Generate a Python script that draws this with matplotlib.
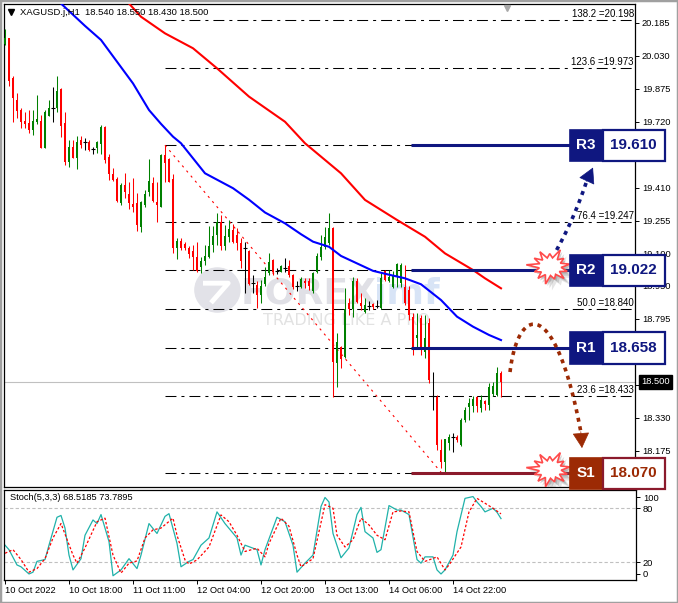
import numpy as np
import matplotlib.pyplot as plt
from matplotlib.patches import Rectangle, Polygon, Ellipse

plt.rcParams['font.family'] = ['Liberation Sans', 'DejaVu Sans']

# ---- XAGUSD H1 candles ----
opens = [20.084, 20.112, 19.927, 19.822, 19.775, 19.723, 19.716, 19.681, 19.720, 19.723,
         19.598, 19.748, 19.783, 19.783, 19.874, 19.713, 19.530, 19.602, 19.551, 19.633,
         19.624, 19.626, 19.591, 19.597, 19.614, 19.697, 19.553, 19.473, 19.451, 19.340,
         19.423, 19.381, 19.334, 19.340, 19.224, 19.329, 19.392, 19.434, 19.343, 19.321,
         19.564, 19.545, 19.451, 19.126, 19.160, 19.145, 19.126, 19.113, 19.086, 19.040,
         19.066, 19.086, 19.141, 19.188, 19.251, 19.138, 19.180, 19.212, 19.188, 19.149,
         19.126, 19.113, 18.962, 18.954, 18.907, 18.958, 19.011, 19.071, 19.021, 19.016,
         19.032, 19.043, 19.000, 18.949, 18.943, 18.974, 18.974, 18.927, 19.016, 19.086,
         19.133, 19.149, 19.220, 18.586, 18.664, 18.617, 18.868, 18.841, 18.972, 18.868,
         18.828, 18.856, 18.863, 18.856, 18.844, 19.019, 18.972, 18.946, 18.992, 18.963,
         18.944, 18.930, 18.803, 18.705, 18.799, 18.639, 18.775, 18.432, 18.426, 18.179,
         18.124, 18.213, 18.238, 18.241, 18.202, 18.320, 18.382, 18.385, 18.426, 18.375,
         18.410, 18.390, 18.440, 18.437, 18.540]
highs = [20.155, 20.115, 19.935, 19.854, 19.783, 19.767, 19.775, 19.775, 19.846, 19.752,
         19.775, 19.822, 19.882, 19.935, 19.878, 19.764, 19.634, 19.634, 19.653, 19.653,
         19.645, 19.634, 19.600, 19.628, 19.706, 19.700, 19.569, 19.501, 19.462, 19.434,
         19.478, 19.439, 19.457, 19.384, 19.346, 19.400, 19.544, 19.462, 19.439, 19.567,
         19.610, 19.548, 19.475, 19.173, 19.173, 19.154, 19.137, 19.141, 19.157, 19.086,
         19.141, 19.231, 19.231, 19.290, 19.282, 19.235, 19.259, 19.239, 19.220, 19.173,
         19.157, 19.118, 19.000, 18.972, 18.977, 19.039, 19.105, 19.074, 19.032, 19.046,
         19.082, 19.071, 19.003, 18.974, 18.990, 18.985, 18.985, 19.014, 19.105, 19.188,
         19.224, 19.290, 19.224, 18.727, 18.667, 18.938, 18.891, 18.992, 18.985, 18.915,
         18.891, 18.878, 18.870, 18.883, 19.008, 19.024, 19.024, 19.019, 19.055, 19.057,
         19.047, 18.949, 18.822, 18.822, 18.813, 18.813, 18.799, 18.546, 18.436, 18.229,
         18.232, 18.254, 18.257, 18.249, 18.328, 18.382, 18.422, 18.432, 18.432, 18.437,
         18.414, 18.495, 18.500, 18.570, 18.550]
lows = [20.080, 19.889, 19.720, 19.738, 19.692, 19.689, 19.666, 19.658, 19.708, 19.595,
        19.595, 19.745, 19.720, 19.764, 19.650, 19.517, 19.509, 19.548, 19.498, 19.598,
        19.587, 19.585, 19.569, 19.575, 19.569, 19.525, 19.447, 19.444, 19.345, 19.329,
        19.361, 19.309, 19.298, 19.208, 19.201, 19.321, 19.371, 19.345, 19.251, 19.318,
        19.439, 19.436, 19.102, 19.076, 19.118, 19.118, 19.079, 19.024, 19.016, 19.008,
        19.047, 19.079, 19.110, 19.141, 19.118, 19.118, 19.157, 19.149, 19.118, 19.032,
        18.915, 18.954, 18.915, 18.844, 18.869, 18.949, 18.999, 18.999, 19.005, 19.013,
        19.016, 18.993, 18.933, 18.927, 18.938, 18.938, 18.930, 18.915, 19.008, 19.071,
        19.121, 19.141, 18.429, 18.476, 18.562, 18.612, 18.813, 18.805, 18.868, 18.836,
        18.821, 18.836, 18.841, 18.844, 18.841, 18.972, 18.969, 18.941, 18.946, 18.944,
        18.860, 18.789, 18.625, 18.662, 18.625, 18.611, 18.494, 18.367, 18.179, 18.093,
        18.070, 18.179, 18.171, 18.218, 18.198, 18.312, 18.320, 18.359, 18.359, 18.359,
        18.367, 18.367, 18.432, 18.432, 18.430]
closes = [20.112, 19.911, 19.833, 19.770, 19.720, 19.709, 19.681, 19.723, 19.733, 19.598,
          19.764, 19.783, 19.783, 19.864, 19.701, 19.530, 19.602, 19.551, 19.626, 19.611,
          19.624, 19.587, 19.591, 19.625, 19.694, 19.540, 19.473, 19.447, 19.349, 19.423,
          19.389, 19.340, 19.321, 19.235, 19.343, 19.379, 19.442, 19.349, 19.329, 19.564,
          19.528, 19.439, 19.126, 19.160, 19.126, 19.126, 19.098, 19.086, 19.019, 19.068,
          19.090, 19.138, 19.185, 19.251, 19.138, 19.185, 19.216, 19.157, 19.149, 19.066,
          19.126, 18.957, 18.962, 18.907, 18.949, 18.992, 19.063, 19.016, 19.021, 19.043,
          19.032, 19.000, 18.943, 18.949, 18.980, 18.962, 18.949, 19.011, 19.090, 19.133,
          19.180, 19.220, 18.594, 18.687, 18.606, 18.841, 18.841, 18.972, 18.875, 18.856,
          18.860, 18.856, 18.849, 18.856, 18.988, 18.977, 18.992, 18.997, 19.051, 19.047,
          18.869, 18.813, 18.662, 18.719, 18.648, 18.705, 18.508, 18.432, 18.202, 18.124,
          18.229, 18.241, 18.238, 18.226, 18.320, 18.367, 18.401, 18.417, 18.385, 18.414,
          18.395, 18.476, 18.478, 18.539, 18.500]

label_bars = [0, 16, 32, 48, 64, 80, 96, 112]
bar_labels = ['10 Oct 2022', '10 Oct 18:00', '11 Oct 11:00', '12 Oct 04:00',
              '12 Oct 20:00', '13 Oct 13:00', '14 Oct 06:00', '14 Oct 22:00']

# moving averages
ma_blue_x = [14, 20, 24, 32, 36, 39, 42, 44, 50, 57, 61, 65, 70, 74, 77, 81, 84, 88, 92,
             96, 100, 104, 109, 113, 117, 121, 124]
ma_blue_y = [20.275, 20.170, 20.104, 19.900, 19.775, 19.710, 19.650, 19.619, 19.478, 19.408,
             19.354, 19.294, 19.243, 19.192, 19.157, 19.133, 19.090, 19.055, 19.020,
             19.002, 18.985, 18.957, 18.883, 18.805, 18.758, 18.719, 18.695]
ma_red_x = [31, 34, 40, 47, 53, 61, 70, 75, 81, 84, 90, 98, 105, 110, 117, 120, 124]
ma_red_y = [20.275, 20.213, 20.135, 20.065, 19.971, 19.838, 19.720, 19.619, 19.525, 19.478,
            19.353, 19.259, 19.180, 19.102, 19.024, 18.985, 18.938]

# Stoch(5,3,3)
st_main_x = [0, 1, 3, 4, 6, 7, 8, 10, 11, 13, 14, 15, 16, 17, 19, 20, 22, 23, 24, 26, 27,
             29, 31, 33, 34, 36, 38, 40, 41, 43, 44, 46, 47, 49, 51, 53, 55, 58, 59, 60,
             63, 64, 65, 68, 70, 72, 73, 75, 77, 79, 80, 81, 82, 84, 86, 88, 89, 90, 92,
             93, 94, 96, 98, 99, 101, 103, 104, 105, 107, 108, 109, 110, 112, 113, 115,
             117, 118, 119, 120, 122, 123, 124]
st_main_y = [39, 34, 17, 15, 7, 9, 21, 23, 39, 70, 72, 58, 28, 11.5, 24, 50, 67, 63, 73, 43,
             5, 11.5, 24, 13, 28, 63, 52, 71, 74, 41, 15, 21, 23, 39, 47, 76, 63, 47, 28,
             39, 34, 17, 34, 70, 65, 39, 9, 19, 28, 82, 92, 87, 52, 25, 36, 73, 81, 54, 47,
             31, 34, 83, 78, 78, 73, 23, 19, 26, 26, 11.5, 7, 11.5, 28, 54, 91, 93, 87, 82,
             76, 80, 75.6, 68.5185]
st_sig_x = [0, 2, 4, 6, 8, 10, 12, 14, 17, 18, 20, 23, 25, 27, 29, 31, 33, 35, 37, 39, 42,
            43, 45, 46, 48, 51, 54, 56, 58, 60, 63, 65, 66, 69, 71, 73, 74, 77, 80, 82, 83,
            85, 87, 89, 91, 93, 95, 97, 99, 101, 103, 105, 106, 108, 110, 111, 114, 116,
            118, 120, 122, 124]
st_sig_y = [30, 34, 23, 9, 13, 24, 47, 63, 28, 19, 36, 65, 69, 28, 8, 19, 21.5, 47, 56, 58,
            69, 50, 22.6, 18, 22.6, 37, 72.6, 65, 50, 32, 35.6, 26, 41, 69, 60, 28, 15, 24,
            84, 80, 50, 37, 45, 69, 61.5, 50, 45, 76, 77, 76, 32, 21, 22.6, 26, 11.5, 17,
            37, 76, 91, 85.6, 80, 73.7895]

# Fibonacci retracement (labels that sit under the level boxes are not shown)
fib_pct = [138.2, 123.6, 100.0, 76.4, 61.8, 50.0, 38.2, 23.6, 0.0]
fib_val = [20.198, 19.973, 19.610, 19.247, 19.022, 18.840, 18.658, 18.433, 18.070]
fib_shown = [True, True, False, True, False, True, False, True, False]
fib_start = 40
swing_hi = (40, 19.610)
swing_lo = (109.2, 18.070)
lvl_names = ['R3', 'R2', 'R1', 'S1']
lvl_vals = [19.610, 19.022, 18.658, 18.070]
last_price = 18.500

price_ticks = [20.185, 20.030, 19.875, 19.720, 19.565, 19.410, 19.255, 19.100, 18.950,
               18.795, 18.640, 18.485, 18.330, 18.175, 18.020]
price_labels = ['20.185', '20.030', '19.875', '19.720', '', '19.410', '19.255', '19.100',
                '18.950', '18.795', '', '', '18.330', '18.175', '']

# ---------------------------------------------------------------
W, H = 678, 603
fig = plt.figure(figsize=(W / 100, H / 100), dpi=100)
ax = fig.add_axes([4 / W, 1 - 487 / H, 631 / W, 483 / H])
ax2 = fig.add_axes([4 / W, 1 - 580 / H, 632 / W, 90 / H])
ax.set_zorder(3)
ax2.set_zorder(1)

XMIN, XMAX = -0.25, 157.5
ax.set_xlim(XMIN, XMAX)
ax.set_ylim(18.0052, 20.2728)
ax2.set_xlim(XMIN, XMAX + 0.25)
ax2.set_ylim(0.3, 100.3)

for a in (ax, ax2):
    for s in a.spines.values():
        s.set_linewidth(0.9)
        s.set_color('black')

# candles
idx = np.arange(len(closes))
o = np.array(opens); c = np.array(closes)
hi = np.array(highs); lo = np.array(lows)
cols = np.where(c > o, '#008000', np.where(c < o, '#ff0000', 'black'))
ax.vlines(idx, lo, hi, colors=cols, lw=0.75, zorder=3)
body = c != o
ax.bar(idx[body], np.abs(c - o)[body], bottom=np.minimum(o, c)[body], width=0.72,
       color=cols[body], linewidth=0, zorder=3)
ax.hlines(o[~body], idx[~body] - 0.4, idx[~body] + 0.4, colors='black', lw=0.8, zorder=3)

# moving averages
ax.plot(ma_blue_x, ma_blue_y, color='#0000ff', lw=1.5, zorder=4)
ax.plot(ma_red_x, ma_red_y, color='#ff0000', lw=1.5, zorder=4)

# last price line
ax.axhline(last_price, color='#c0c0c0', lw=0.8, zorder=1)

# fibonacci
ax.hlines(fib_val, fib_start, XMAX, colors='black', lw=0.75,
          linestyles=[(0, (10.5, 4.8, 2.9, 4.8))], zorder=1)
for p, v, show in zip(fib_pct, fib_val, fib_shown):
    if show:
        ax.text(XMAX - 0.3, v + 0.006, f'{p:.1f} ={v:.3f}', ha='right', va='bottom',
                fontsize=7, zorder=2)
ax.plot([swing_hi[0], swing_lo[0]], [swing_hi[1], swing_lo[1]], color='red', lw=0.8,
        ls=(0, (2, 4)), zorder=2)

# watermark
ax.add_patch(Ellipse((53.1, 18.930), 11.25, 0.207, color='#e2e2e8', zorder=0.5))
ax.plot([49.5, 55.8, 51.5], [18.962, 18.962, 18.870], color='white', lw=3.5,
        solid_capstyle='butt', zorder=0.6)
ax.text(58.8, 18.912, 'FOREX', fontsize=26, fontweight='bold', color='#e0e0e6',
        family='DejaVu Sans', va='center', zorder=0.5)
ax.text(92.2, 18.912, 'imf', fontsize=26, fontweight='bold', color='#d8e4f6',
        family='DejaVu Sans', va='center', zorder=0.5)
ax.text(64.5, 18.785, 'TRADING LIKE A PRO', fontsize=11.5, color='#e2e2e2',
        family='DejaVu Sans', va='center', zorder=0.5)

# header
ax.plot([0.011], [0.983], marker='v', color='black', ms=4, transform=ax.transAxes,
        clip_on=False, zorder=6)
ax.text(0.025, 0.983, 'XAGUSD.j,H1  18.540 18.550 18.430 18.500', transform=ax.transAxes,
        fontsize=6.8, va='center', ha='left', zorder=6)
ax.plot([125.5], [20.255], marker='v', color='#a8a8a8', ms=5, zorder=6, clip_on=False)

# price axis
ax.set_xticks([])
ax.yaxis.tick_right()
ax.set_yticks(price_ticks)
ax.set_yticklabels(price_labels)
ax.tick_params(axis='y', length=3, width=0.7, labelsize=6.7, pad=2)
ax.text(XMAX + 1.55, last_price, f'{last_price:.3f}', color='white', fontsize=6.7,
        va='center', ha='left', zorder=15, clip_on=False,
        bbox=dict(boxstyle='square,pad=0.28', fc='black', ec='black'))

# support / resistance lines and boxes
navy = '#0f1780'
brown = '#9c2a04'
maroon = '#8b1a2c'
box_h = 0.147
for name, v in zip(lvl_names, lvl_vals):
    fill = navy if name.startswith('R') else brown
    edge = navy if name.startswith('R') else maroon
    line_c = navy if name.startswith('R') else maroon
    ax.plot([101.5, 141.4], [v, v], color=line_c, lw=2.2, zorder=5,
            solid_capstyle='butt')
    ax.add_patch(Rectangle((141.2, v - box_h / 2), 8.2, box_h, fc=fill, ec=fill, lw=1.2,
                           zorder=20, clip_on=False))
    ax.add_patch(Rectangle((149.4, v - box_h / 2), 15.7, box_h, fc='white', ec=edge,
                           lw=1.6, zorder=20, clip_on=False))
    ax.text(145.3, v, name, color='white', fontsize=11, fontweight='bold', ha='center',
            va='center', zorder=21, clip_on=False)
    ax.text(157.2, v, f'{v:.3f}', color=fill, fontsize=11, fontweight='bold',
            ha='center', va='center', zorder=21, clip_on=False)


def starburst(cx, cy, rx, ry):
    k = np.arange(26)
    ang = k * np.pi / 13 + 0.15
    scale = np.array([1.0, 0.85, 1.15, 0.8, 1.05, 0.95, 1.2, 0.85, 0.95, 1.1, 0.8, 1.0, 0.9])
    r = np.where(k % 2 == 0, np.repeat(scale, 2), 0.55)
    return np.column_stack([cx + rx * r * np.cos(ang), cy + ry * r * np.sin(ang)])


for v in (lvl_vals[1], lvl_vals[3]):
    pts = starburst(136.3, v + 0.018, 5.0, 0.076)
    for dx, dy, al in [(1.6, -0.03, 0.18), (1.0, -0.02, 0.25), (0.5, -0.01, 0.3)]:
        ax.add_patch(Polygon(pts + [dx, dy], closed=True, fc='#707070', ec='none',
                             alpha=al, zorder=6))
    ax.add_patch(Polygon(pts, closed=True, fc='white', ec='#ff4a4a', lw=1.2, zorder=7))


def bezier(pts, n=60):
    t = np.linspace(0, 1, n)[:, None]
    p = np.array(pts)
    if len(p) == 3:
        return (1 - t) ** 2 * p[0] + 2 * (1 - t) * t * p[1] + t ** 2 * p[2]
    return ((1 - t) ** 3 * p[0] + 3 * (1 - t) ** 2 * t * p[1] + 3 * (1 - t) * t ** 2 * p[2]
            + t ** 3 * p[3])


# projected paths
up = bezier([(137.9, 19.118), (142.2, 19.262), (145.4, 19.440)])
ax.plot(up[:, 0], up[:, 1], color=navy, lw=2.6, ls=(0, (1.1, 1.3)),
        dash_capstyle='butt', zorder=8, clip_on=False)
ax.annotate('', xy=(147.0, 19.505), xytext=(145.4, 19.440),
            arrowprops=dict(arrowstyle='-|>,head_length=1.0,head_width=0.55', color=navy,
                            lw=0.5, shrinkA=0, shrinkB=0), zorder=8)
dn = bezier([(126.25, 18.545), (128.25, 18.860), (137.5, 18.907), (143.9, 18.27)])
ax.plot(dn[:, 0], dn[:, 1], color=brown, lw=2.6, ls=(0, (1.1, 1.3)),
        dash_capstyle='butt', zorder=8)
ax.annotate('', xy=(144.25, 18.188), xytext=(143.95, 18.265),
            arrowprops=dict(arrowstyle='-|>,head_length=1.0,head_width=0.55', color=brown,
                            lw=0.5, shrinkA=0, shrinkB=0), zorder=8)

# stochastic panel
ax2.axhline(80, color='#c0c0c0', lw=0.8, ls=(0, (3, 2)))
ax2.axhline(20, color='#c0c0c0', lw=0.8, ls=(0, (3, 2)))
ax2.plot(st_main_x, st_main_y, color='#20b2aa', lw=0.9)
ax2.plot(st_sig_x, st_sig_y, color='#ff0000', lw=0.9, ls=(0, (2, 1.6)))
ax2.text(0.009, 0.92, 'Stoch(5,3,3) 68.5185 73.7895', transform=ax2.transAxes,
         fontsize=6.7, va='center', ha='left')
ax2.yaxis.tick_right()
ax2.set_yticks([92.5, 80, 20, 7.5])
ax2.set_yticklabels(['100', '80', '20', '0'])
ax2.tick_params(axis='y', length=3, width=0.7, labelsize=6.7, pad=2)
ax2.set_xticks(label_bars)
ax2.set_xticklabels(bar_labels)
for t in ax2.get_xticklabels():
    t.set_ha('left')
ax2.tick_params(axis='x', length=3, width=0.7, labelsize=6.7, pad=1.5)

# window frame
fig.patches.append(Rectangle((0, 0), 1, 1, transform=fig.transFigure, fill=False,
                             edgecolor='#a0a0a0', lw=2.5))

fig.savefig('out.png', dpi=100)
